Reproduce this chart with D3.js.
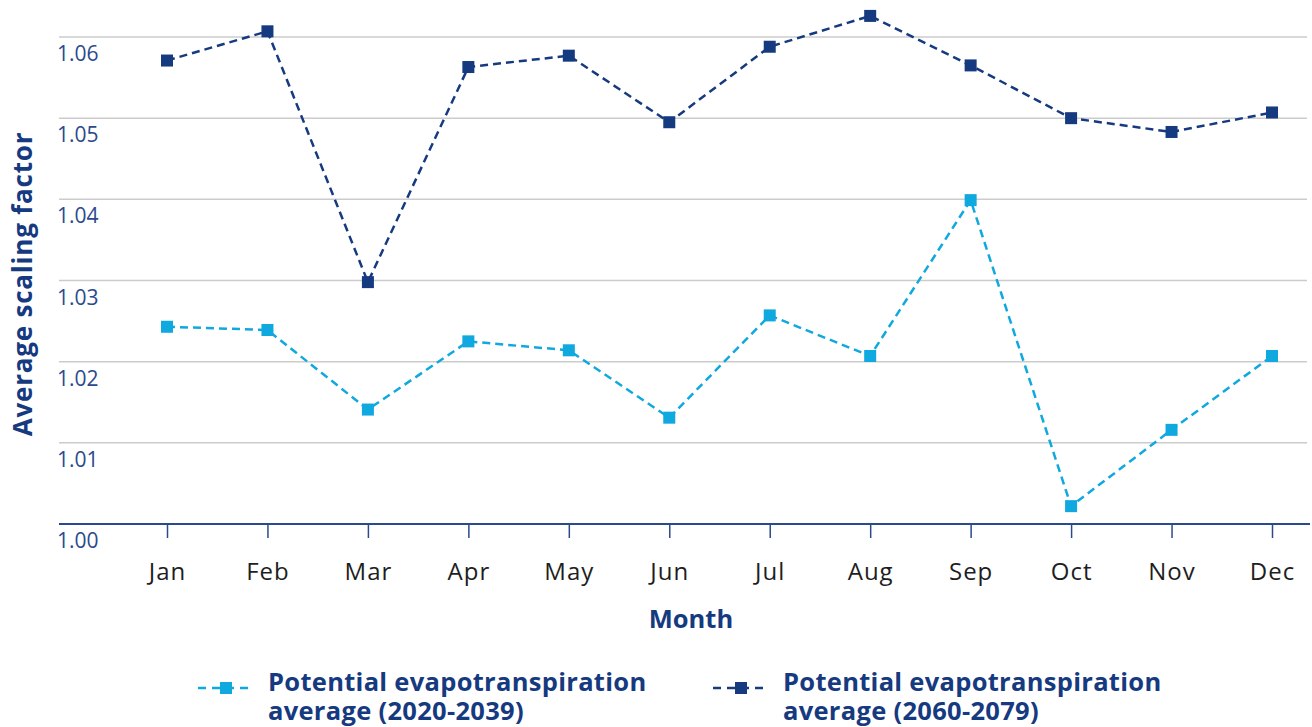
<!DOCTYPE html>
<html>
<head>
<meta charset="utf-8">
<script src="https://cdn.jsdelivr.net/npm/d3@7"></script>
<style>
  html, body { margin: 0; padding: 0; background: #fff; }
  svg { display: block; font-family: "Open Sans", "Noto Sans", sans-serif; }
</style>
</head>
<body>
<svg id="chart" width="1312" height="727"></svg>
<script>
const months = ["Jan","Feb","Mar","Apr","May","Jun","Jul","Aug","Sep","Oct","Nov","Dec"];
const pet2020 = [1.0243, 1.0239, 1.0141, 1.0225, 1.0214, 1.0131, 1.0257, 1.0207, 1.0399, 1.0022, 1.0116, 1.0207];
const pet2060 = [1.0571, 1.0607, 1.0298, 1.0563, 1.0577, 1.0495, 1.0588, 1.0626, 1.0565, 1.0500, 1.0483, 1.0507];
const yTicks = [1.00, 1.01, 1.02, 1.03, 1.04, 1.05, 1.06];
const seriesNames = ["Potential evapotranspiration average (2020-2039)", "Potential evapotranspiration average (2060-2079)"];

const lightBlue = "#0fa8df";
const darkBlue = "#163a80";
const axisBlue = "#2b4a8e";

const svg = d3.select("#chart");
const x = d3.scalePoint().domain(months).range([167, 1272]);
const y = d3.scaleLinear().domain([1.00, 1.06]).range([524, 37]);
const plotLeft = 59, plotRight = 1307;

// gridlines
svg.append("g").selectAll("line").data(yTicks.filter(d => d > 1.0)).join("line")
  .attr("x1", plotLeft).attr("x2", plotRight)
  .attr("y1", d => y(d)).attr("y2", d => y(d))
  .attr("stroke", "#cccccc").attr("stroke-width", 1.5);

// y tick labels (below gridlines, left aligned)
svg.append("g").selectAll("text").data(yTicks).join("text")
  .attr("x", 57).attr("y", d => y(d) + 24)
  .attr("fill", axisBlue).attr("font-size", 21)
  .text(d => d3.format(".2f")(d));

// x axis
const xAxis = d3.axisBottom(x).tickSize(14).tickPadding(25).tickSizeOuter(0);
const gx = svg.append("g").attr("transform", `translate(0,${y(1.00)})`).call(xAxis);
gx.select(".domain").attr("d", `M${plotLeft},0H${plotRight + 3}`).attr("stroke", axisBlue).attr("stroke-width", 2);
gx.selectAll(".tick line").attr("stroke", axisBlue).attr("stroke-width", 1.5);
gx.selectAll(".tick text").attr("fill", "#1e1e1e").attr("font-size", 24)
  .attr("letter-spacing", 1)
  .attr("font-family", "'Open Sans', 'Noto Sans', sans-serif");

// axis titles
svg.append("text").attr("x", 691).attr("y", 628).attr("text-anchor", "middle")
  .attr("fill", darkBlue).attr("font-size", 25.5).attr("font-weight", 700).text("Month");
svg.append("text").attr("transform", "translate(32,284) rotate(-90)").attr("text-anchor", "middle")
  .attr("fill", darkBlue).attr("font-size", 26).attr("font-weight", 700)
  .attr("letter-spacing", 0.8).text("Average scaling factor");

// series
const series = [
  { values: pet2020, color: lightBlue },
  { values: pet2060, color: darkBlue }
];
const line = d3.line().x((d, i) => x(months[i])).y(d => y(d));
series.forEach(s => {
  svg.append("path").datum(s.values).attr("d", line)
    .attr("fill", "none").attr("stroke", s.color).attr("stroke-width", 2.5)
    .attr("stroke-dasharray", "8,5");
  svg.append("g").selectAll("rect").data(s.values).join("rect")
    .attr("x", (d, i) => x(months[i]) - 6).attr("y", d => y(d) - 6)
    .attr("width", 12).attr("height", 12).attr("fill", s.color);
});

// legend
const legendItems = [
  { name: seriesNames[0], color: lightBlue, lx: 198, tx: 268 },
  { name: seriesNames[1], color: darkBlue, lx: 713, tx: 783 }
];
legendItems.forEach(it => {
  const g = svg.append("g");
  g.append("line").attr("x1", it.lx).attr("x2", it.lx + 56).attr("y1", 688).attr("y2", 688)
    .attr("stroke", it.color).attr("stroke-width", 2.5).attr("stroke-dasharray", "8,6");
  g.append("rect").attr("x", it.lx + 22).attr("y", 682).attr("width", 12).attr("height", 12).attr("fill", it.color);
  const words = it.name.split(" ");
  const t = g.append("text").attr("x", it.tx).attr("y", 691).attr("fill", darkBlue)
    .attr("font-size", 25.5).attr("font-weight", 700).attr("letter-spacing", 0.3);
  t.append("tspan").attr("x", it.tx).attr("dy", 0).text(words.slice(0, 2).join(" "));
  t.append("tspan").attr("x", it.tx).attr("dy", 29).text(words.slice(2).join(" "));
});
</script>
</body>
</html>
